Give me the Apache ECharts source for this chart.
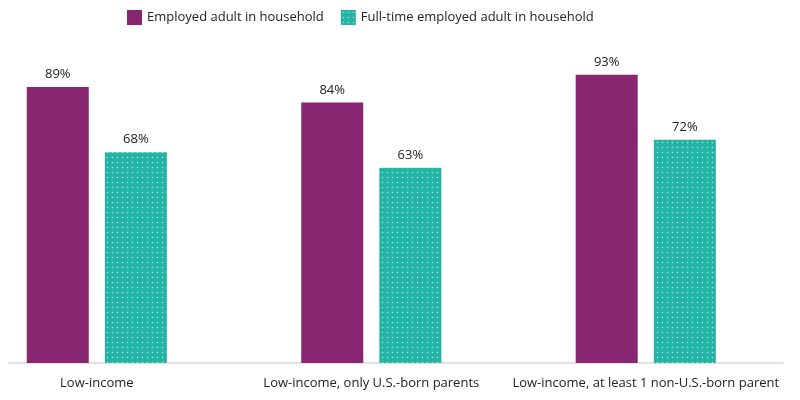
<!DOCTYPE html>
<html>
<head>
<meta charset="utf-8">
<script src="https://cdn.jsdelivr.net/npm/echarts@6/dist/echarts.min.js"></script>
<style>
html,body{margin:0;padding:0;background:#fff;}
#chart{width:800px;height:400px;}
</style>
</head>
<body>
<div id="chart"></div>
<script>
const categories = ['Low-income', 'Low-income, only U.S.-born parents', 'Low-income, at least 1 non-U.S.-born parent'];
const seriesNames = ['Employed adult in household', 'Full-time employed adult in household'];
const employed = [89, 84, 93];
const fullTime = [68, 63, 72];

const PURPLE = '#882672';
const TEAL = '#22B4A5';

function dotPattern() {
  const c = document.createElement('canvas');
  c.width = 5; c.height = 5;
  const ctx = c.getContext('2d');
  ctx.fillStyle = TEAL;
  ctx.fillRect(0, 0, 5, 5);
  ctx.fillStyle = 'rgba(255,255,255,0.6)';
  ctx.beginPath();
  ctx.arc(2.5, 2.5, 0.8, 0, Math.PI * 2);
  ctx.fill();
  return c;
}
const tealFill = { image: dotPattern(), repeat: 'repeat' };

const idx = categories.map((_, i) => i);
const FONT = 'Open Sans';
const chart = echarts.init(document.getElementById('chart'), null, { renderer: 'canvas' });
chart.setOption({
  animation: false,
  textStyle: { fontFamily: FONT },
  legend: {
    top: 5,
    left: 122,
    itemWidth: 15,
    itemHeight: 15,
    itemGap: 17,
    textStyle: { fontFamily: FONT, fontSize: 13, color: '#222' },
    data: [
      { name: seriesNames[0], icon: 'rect', itemStyle: { color: PURPLE } },
      { name: seriesNames[1], icon: 'rect', itemStyle: { color: tealFill } }
    ]
  },
  grid: { left: 9, right: 17, top: 53, bottom: 37 },
  xAxis: {
    type: 'value',
    min: -0.32,
    max: 2.5,
    splitLine: { show: false },
    axisLine: { show: true, onZero: false, lineStyle: { color: '#d9d9d9', width: 1.5 } },
    axisTick: { show: false },
    axisLabel: {
      customValues: idx,
      formatter: v => categories[Math.round(v)] || '',
      fontFamily: FONT, fontSize: 13, color: '#222', margin: 14
    }
  },
  yAxis: { type: 'value', min: 0, max: 100, show: false },
  series: [
    {
      name: seriesNames[0],
      type: 'bar',
      data: employed.map((v, i) => [i, v]),
      barWidth: 62,
      barGap: '26%',
      itemStyle: { color: PURPLE },
      label: { show: true, position: 'top', distance: 6, formatter: p => p.value[1] + '%', fontFamily: FONT, fontSize: 13, color: '#222' }
    },
    {
      name: seriesNames[1],
      type: 'bar',
      data: fullTime.map((v, i) => [i, v]),
      barWidth: 62,
      barGap: '26%',
      itemStyle: { color: tealFill },
      label: { show: true, position: 'top', distance: 6, formatter: p => p.value[1] + '%', fontFamily: FONT, fontSize: 13, color: '#222' }
    }
  ]
});
</script>
</body>
</html>
